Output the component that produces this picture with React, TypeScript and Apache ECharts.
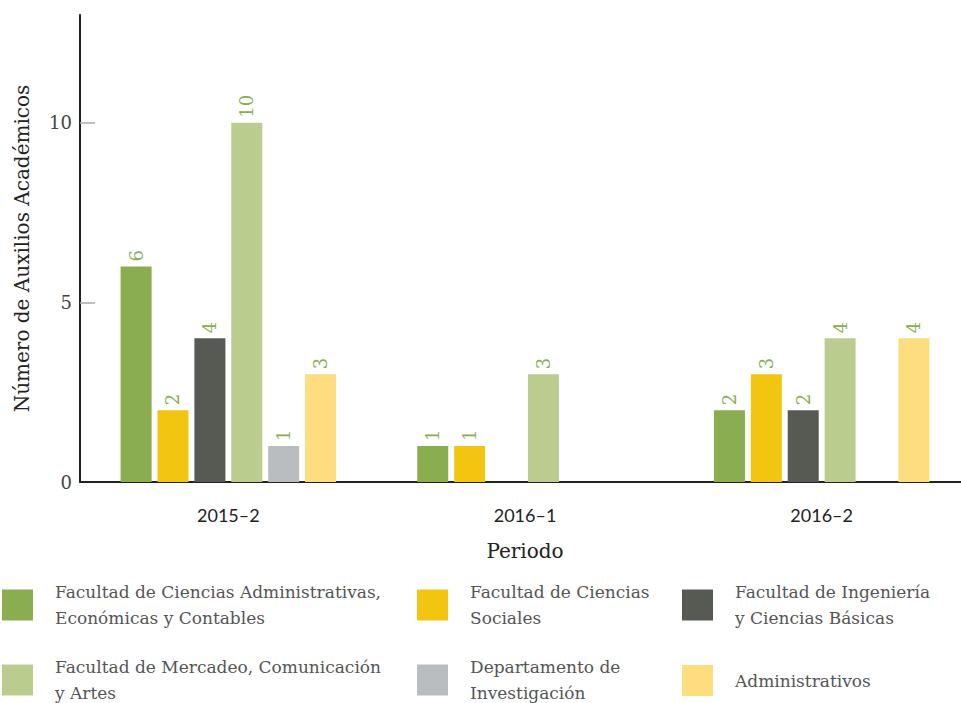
import React, { useEffect, useRef } from "react";
import * as echarts from "echarts";

const categories = ["2015–2", "2016–1", "2016–2"];
const seriesNames = [
  "Facultad de Ciencias Administrativas, Económicas y Contables",
  "Facultad de Ciencias Sociales",
  "Facultad de Ingeniería y Ciencias Básicas",
  "Facultad de Mercadeo, Comunicación y Artes",
  "Departamento de Investigación",
  "Administrativos",
];
const legendLabels = [
  "Facultad de Ciencias Administrativas,\nEconómicas y Contables",
  "Facultad de Ciencias\nSociales",
  "Facultad de Ingeniería\ny Ciencias Básicas",
  "Facultad de Mercadeo, Comunicación\ny Artes",
  "Departamento de\nInvestigación",
  "Administrativos",
];
const colors = ["#8aad50", "#f2c610", "#575a52", "#bacc8e", "#babdbf", "#fedd7e"];
const admValues = [6, 1, 2];
const socValues = [2, 1, 3];
const ingValues = [4, null, 2];
const merValues = [10, 3, 4];
const invValues = [1, null, null];
const adminValues = [3, null, 4];
const allValues = [admValues, socValues, ingValues, merValues, invValues, adminValues];
const yTickValues = [5, 10];

const SERIF = "'DejaVu Serif', serif";
const SANS = "Lato, 'Noto Sans', sans-serif";

const legendPos = [
  { left: 2, top: 579 },
  { left: 417, top: 579 },
  { left: 682, top: 579 },
  { left: 2, top: 654 },
  { left: 417, top: 654 },
  { left: 682, top: 665 },
];

export default function App() {
  const ref = useRef<HTMLDivElement>(null);
  useEffect(() => {
    if (!ref.current) return;
    const chart = echarts.init(ref.current, null, { renderer: "svg" });
    const option: any = {
      animation: false,
      color: colors,
      grid: {
        left: 80,
        top: 15,
        width: 890,
        bottom: 221,
        containLabel: false,
        outerBoundsMode: "none",
      },
      legend: seriesNames.map((n, i) => ({
        data: [n],
        left: legendPos[i].left,
        top: legendPos[i].top,
        orient: "horizontal",
        padding: 0,
        itemWidth: 31,
        itemHeight: 31,
        icon: "rect",
        selectedMode: false,
        formatter: () => legendLabels[i],
        textStyle: {
          fontFamily: SERIF,
          fontSize: 17,
          color: "#555",
          lineHeight: 26,
          padding: [0, 0, 0, 17],
        },
      })),
      xAxis: {
        type: "category",
        data: categories,
        name: "Periodo",
        nameLocation: "middle",
        nameGap: 59,
        nameTextStyle: { fontFamily: SERIF, fontSize: 20, color: "#222" },
        axisLine: { lineStyle: { color: "#222", width: 2 } },
        axisTick: { alignWithLabel: true, length: 12, lineStyle: { color: "#bbb", width: 1.5 } },
        axisLabel: { fontFamily: SANS, fontSize: 18, color: "#222", margin: 24 },
      },
      yAxis: {
        type: "value",
        min: 0,
        max: 13,
        interval: 5,
        name: "Número de Auxilios Académicos",
        nameLocation: "middle",
        nameGap: 48,
        nameTextStyle: { fontFamily: SERIF, fontSize: 20, color: "#222" },
        axisLine: { show: true, lineStyle: { color: "#222", width: 2 } },
        axisTick: {
          show: true,
          length: -15,
          customValues: yTickValues,
          lineStyle: { color: "#aaa", width: 1.5 },
        },
        axisLabel: {
          fontFamily: SERIF,
          fontSize: 18,
          color: "#444",
          margin: 8,
          formatter: (v: number) => (v % 5 === 0 ? String(v) : ""),
        },
        splitLine: { show: true, showMaxLine: false, showMinLine: false, lineStyle: { color: "#ccc", width: 1.5 } },
      },
      series: seriesNames.map((n, i) => ({
        name: n,
        type: "bar",
        data: allValues[i],
        barWidth: 31,
        barGap: "19%",
        itemStyle: { color: colors[i] },
        label: {
          show: true,
          position: "top",
          rotate: 90,
          align: "left",
          verticalAlign: "middle",
          distance: 5,
          fontFamily: SERIF,
          fontSize: 18,
          color: "#8aad50",
        },
      })),
    };
    chart.setOption(option);
    return () => chart.dispose();
  }, []);
  return (
    <div
      ref={ref}
      style={{ position: "absolute", left: 0, top: 0, width: 961, height: 703 }}
    />
  );
}
